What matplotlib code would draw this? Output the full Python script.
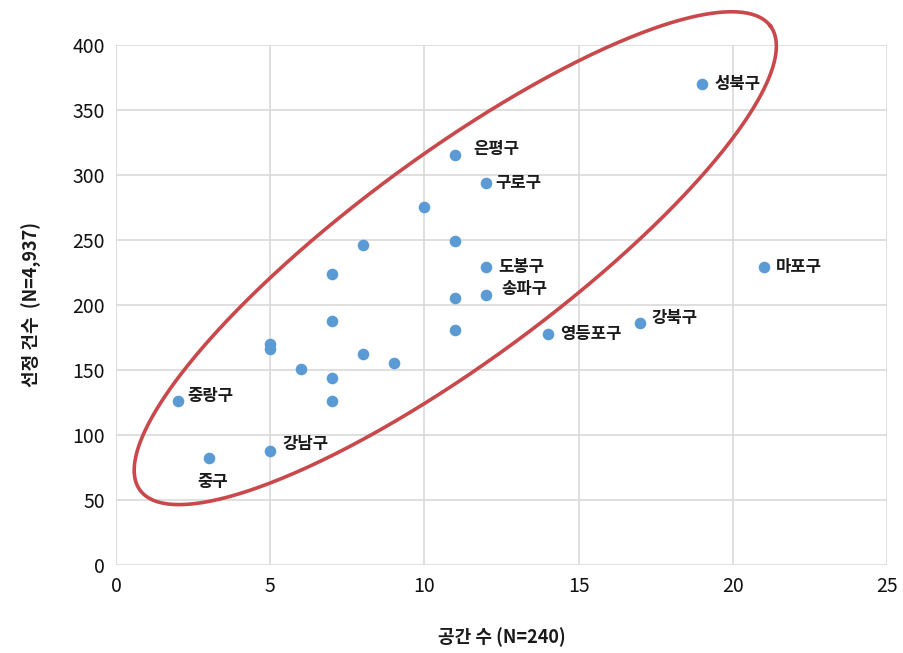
import numpy as np
import matplotlib.pyplot as plt

plt.rcParams['font.family'] = ['Noto Sans CJK KR', 'DejaVu Sans']

# space count vs selected cases per district
spaces = [19, 11, 12, 10, 11, 8, 12, 7, 21, 12, 11, 7, 17, 11, 14,
          5, 5, 8, 9, 6, 7, 7, 2, 5, 3]
cases = [370, 315, 294, 275, 249, 246, 229, 224, 229, 208, 205, 188, 186, 181, 178,
         170, 166, 162, 155, 151, 144, 126, 126, 88, 82]
names = ['성북구', '은평구', '구로구', '', '', '', '도봉구', '', '마포구', '송파구', '', '', '강북구', '', '영등포구',
         '', '', '', '', '', '', '', '중랑구', '강남구', '중구']

# label offsets in points (dx, dy)
offsets = {
    '성북구': (9, 0), '은평구': (13, 5), '구로구': (7, 0), '도봉구': (9, 0),
    '마포구': (9, 0), '송파구': (11, 4), '강북구': (8, 4), '영등포구': (9, 0),
    '중랑구': (7, 4), '강남구': (9, 5), '중구': (3, -17),
}

# highlight ellipse (data units): center, major and minor semi-axis vectors
ell_center = (11.0, 236.0)
ell_major = (10.22, 178.5)
ell_minor = (1.98, -63.8)

fig = plt.figure(figsize=(9.04, 6.53), dpi=100)
ax = fig.add_axes([0.1283, 0.1348, 0.853, 0.7963])

ax.scatter(spaces, cases, s=70, color='#5B9BD5', zorder=3, linewidths=0)

for x, y, n in zip(spaces, cases, names):
    if not n:
        continue
    dx, dy = offsets[n]
    ha = 'center' if n == '중구' else 'left'
    ax.annotate(n, (x, y), xytext=(dx, dy), textcoords='offset points',
                ha=ha, va='center', fontsize=12, fontweight='bold', color='#1a1a1a')

t = np.linspace(0, 2 * np.pi, 400)
ex = ell_center[0] + ell_major[0] * np.cos(t) + ell_minor[0] * np.sin(t)
ey = ell_center[1] + ell_major[1] * np.cos(t) + ell_minor[1] * np.sin(t)
ax.plot(ex, ey, color='#C8484B', lw=2.6, clip_on=False, zorder=4)

ax.set_xlim(0, 25)
ax.set_ylim(0, 400)
ax.set_xticks(np.arange(0, 26, 5))
ax.set_yticks(np.arange(0, 401, 50))
ax.grid(True, color='#D9D9D9', lw=1.2)
ax.set_axisbelow(True)
for s in ax.spines.values():
    s.set_visible(False)
ax.tick_params(length=0, labelsize=14, colors='#111111', pad=8)

ax.set_xlabel('공간 수 (N=240)', fontsize=13, labelpad=22, color='#1a1a1a', fontweight='bold')
ax.set_ylabel('선정 건수  (N=4,937)', fontsize=13, labelpad=22, color='#1a1a1a', fontweight='bold')

fig.savefig('out.png', dpi=100)
